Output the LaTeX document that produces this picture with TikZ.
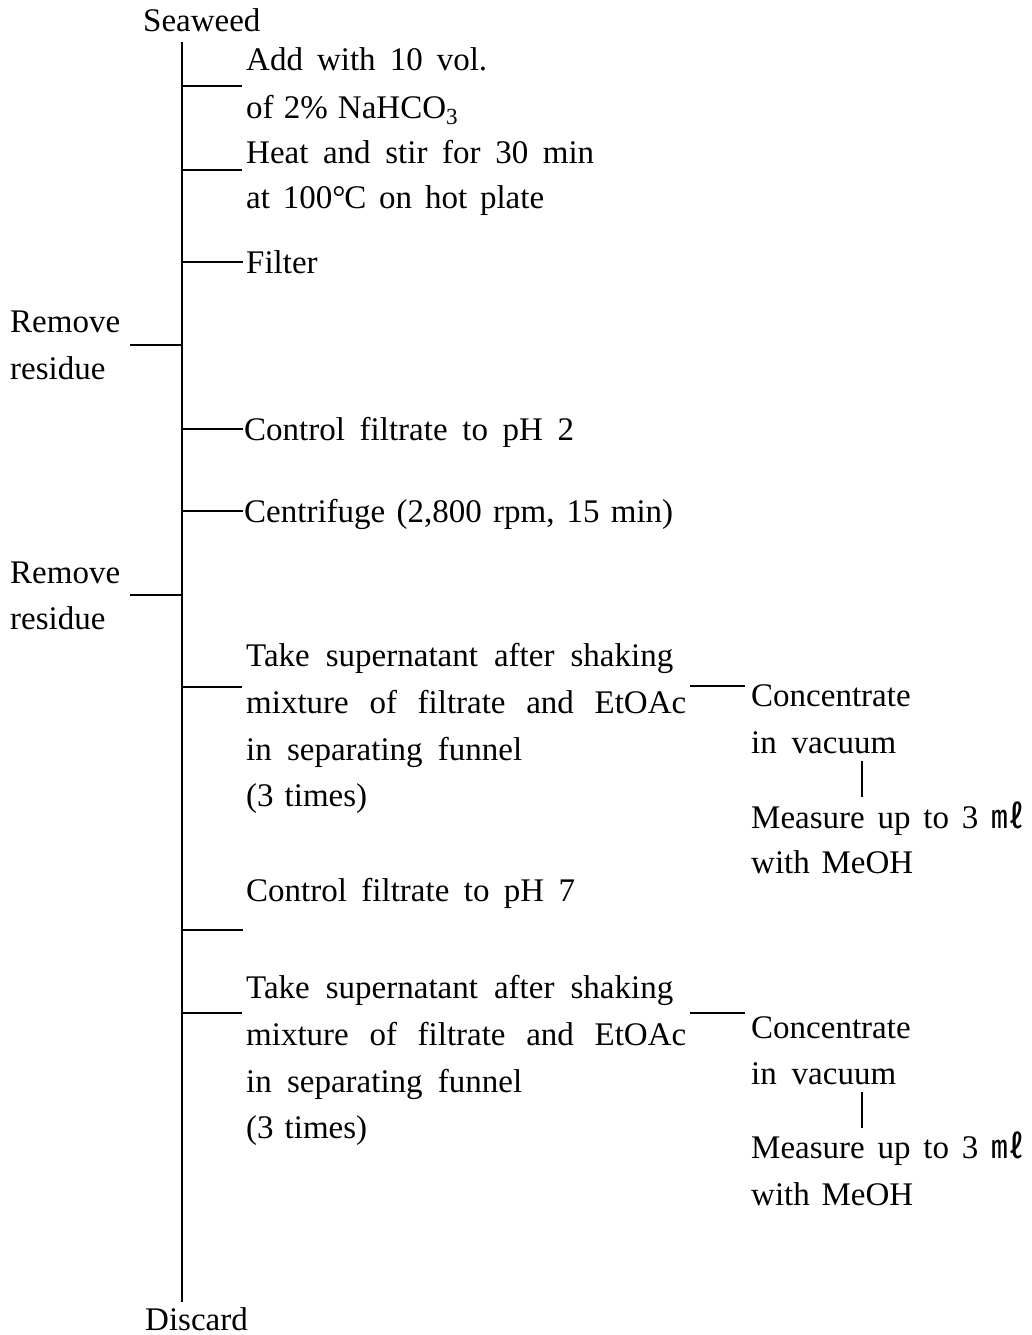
\documentclass[tikz,border=0pt]{standalone}
\usepackage{fontspec}
\setmainfont{Liberation Serif}
\newfontfamily\cjk{Noto Sans CJK KR}
\newcommand\jb[2]{\makebox[#1pt][s]{#2}}
\begin{document}
\begin{tikzpicture}[x=1pt,y=-1pt,
  txt/.style={anchor=base west, inner sep=0pt, font=\fontsize{33}{40}\selectfont},
  ln/.style={line width=1.5pt, line cap=butt}]
\useasboundingbox (0,0) rectangle (1031,1335);
% texts
\node[txt] (seaweed) at (143,32) {Seaweed};
\node[txt] (add1) at (246,71) {\jb{241}{Add with 10 vol.}};
\node[txt] (add2) at (246,118) {\jb{212}{of 2\% NaHCO\textsubscript{3}}};
\node[txt] (heat1) at (246,163) {\jb{348}{Heat and stir for 30 min}};
\node[txt] (heat2) at (246,208) {\jb{298}{at 100\textdegree\kern-0.04em C on hot plate}};
\node[txt] (filter) at (246,273) {Filter};
\node[txt] (rem1a) at (10,332) {Remove};
\node[txt] (rem1b) at (10,379) {residue};
\node[txt] (ph2) at (244,440) {\jb{330}{Control filtrate to pH 2}};
\node[txt] (cent) at (244,522) {\jb{429}{Centrifuge (2,800 rpm, 15 min)}};
\node[txt] (rem2a) at (10,583) {Remove};
\node[txt] (rem2b) at (10,629) {residue};
\node[txt] (take1a) at (246,666) {\jb{427}{Take supernatant after shaking}};
\node[txt] (take1b) at (246,713) {\jb{440}{mixture of filtrate and EtOAc}};
\node[txt] (take1c) at (246,760) {\jb{276}{in separating funnel}};
\node[txt] (take1d) at (246,806) {\jb{121}{(3 times)}};
\node[txt] (conc1a) at (751,706) {Concentrate};
\node[txt] (conc1b) at (751,753) {\jb{145}{in vacuum}};
\node[txt] (meas1a) at (751,828) {\jb{273}{Measure up to 3 {\cjk ㎖}}};
\node[txt] (meas1b) at (751,873) {\jb{162}{with MeOH}};
\node[txt] (ph7) at (246,901) {\jb{329}{Control filtrate to pH 7}};
\node[txt] (take2a) at (246,998) {\jb{427}{Take supernatant after shaking}};
\node[txt] (take2b) at (246,1045) {\jb{440}{mixture of filtrate and EtOAc}};
\node[txt] (take2c) at (246,1092) {\jb{276}{in separating funnel}};
\node[txt] (take2d) at (246,1138) {\jb{121}{(3 times)}};
\node[txt] (conc2a) at (751,1038) {Concentrate};
\node[txt] (conc2b) at (751,1084) {\jb{145}{in vacuum}};
\node[txt] (meas2a) at (751,1158) {\jb{273}{Measure up to 3 {\cjk ㎖}}};
\node[txt] (meas2b) at (751,1205) {\jb{162}{with MeOH}};
\node[txt] (discard) at (145,1330) {Discard};
% trunk
\coordinate (ttop) at (182,42);
\coordinate (tbot) at (182,1302);
\draw[ln] (ttop) -- (tbot);
% right branches from trunk
\foreach \n/\y/\e in {a/86/242, b/170/242, c/262/243, d/429/243, e/511/243, f/687/242, g/930/243, h/1013/242}{
  \coordinate (s\n) at (182,\y);
  \coordinate (e\n) at (\e,\y);
  \draw[ln] (s\n) -- (e\n);
}
% left branches
\foreach \n/\y in {l1/345, l2/595}{
  \coordinate (s\n) at (182,\y);
  \coordinate (e\n) at (130,\y);
  \draw[ln] (s\n) -- (e\n);
}
% side connectors
\coordinate (r1s) at (690,686); \coordinate (r1e) at (745,686);
\draw[ln] (r1s) -- (r1e);
\coordinate (r2s) at (690,1013); \coordinate (r2e) at (745,1013);
\draw[ln] (r2s) -- (r2e);
\coordinate (v1s) at (862,761); \coordinate (v1e) at (862,797);
\draw[ln] (v1s) -- (v1e);
\coordinate (v2s) at (862,1092); \coordinate (v2e) at (862,1128);
\draw[ln] (v2s) -- (v2e);
\end{tikzpicture}
\end{document}
